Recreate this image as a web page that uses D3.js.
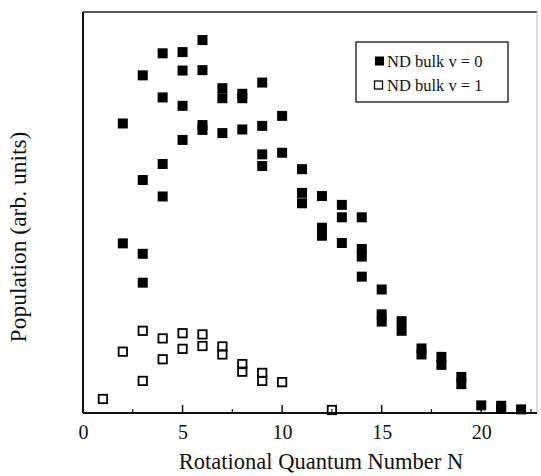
<!DOCTYPE html>
<html>
<head>
<meta charset="utf-8">
<script src="https://cdn.jsdelivr.net/npm/d3@7"></script>
<style>
  body { margin: 0; background: #fff; }
  svg { display: block; font-family: 'Liberation Serif', 'DejaVu Serif', serif; }
</style>
</head>
<body>
<div id="chart"></div>
<script>
// ND bulk v = 0 (filled squares)
const nV0 = [2, 2, 3, 3, 3, 3, 4, 4, 4, 4, 5, 5, 5, 5, 6, 6, 6, 6, 7, 7, 7, 8, 8, 8,
  9, 9, 9, 9, 10, 10, 11, 11, 11, 12, 12, 12, 13, 13, 13, 14, 14, 14, 14,
  15, 15, 15, 16, 16, 17, 17, 18, 18, 19, 19, 20, 21, 21, 22];
const popV0 = [72.2, 42.3, 84.2, 58.1, 39.7, 32.5, 89.7, 78.7, 62.1, 54.0, 90.0, 85.4, 76.6, 68.1,
  93.0, 85.5, 71.8, 70.6, 81.0, 78.5, 69.8, 79.6, 78.5, 70.7,
  82.4, 71.6, 64.5, 61.6, 74.1, 64.9, 60.8, 54.9, 52.3, 54.1, 46.2, 44.2, 51.9, 48.8, 42.4,
  48.8, 40.9, 39.0, 34.0, 30.8, 24.6, 22.8, 22.9, 20.5, 16.1, 14.6, 14.0, 12.0, 9.0, 7.2,
  1.9, 1.8, 1.0, 0.9];

// ND bulk v = 1 (open squares)
const nV1 = [1, 2, 3, 3, 4, 4, 5, 5, 6, 6, 7, 7, 8, 8, 9, 9, 10, 12.5];
const popV1 = [3.5, 15.3, 20.5, 8.0, 18.6, 13.4, 19.9, 16.0, 19.6, 16.7, 16.6, 14.6,
  12.2, 10.3, 10.0, 8.0, 7.7, 0.75];

const xTicks = [0, 5, 10, 15, 20];
const xMinorTicks = [2.5, 7.5, 12.5, 17.5, 22.5];
const legendLabels = ['ND bulk v = 0', 'ND bulk v = 1'];

const width = 541;
const height = 476;
const plotLeft = 83, plotRight = 537, plotTop = 12, plotBottom = 413;

const svg = d3.select('#chart').append('svg')
  .attr('width', width)
  .attr('height', height);

const x = d3.scaleLinear().domain([0, 22.8]).range([plotLeft, plotRight]);
const y = d3.scaleLinear().domain([0, 100]).range([plotBottom, plotTop]);

// frame
svg.append('line').attr('x1', plotLeft).attr('x2', plotRight).attr('y1', plotTop).attr('y2', plotTop)
  .attr('stroke', '#222').attr('stroke-width', 1.5);
svg.append('line').attr('x1', plotRight).attr('x2', plotRight).attr('y1', plotTop).attr('y2', plotBottom)
  .attr('stroke', '#bbb').attr('stroke-width', 1);

// x axis with inward ticks
const xAxis = svg.append('g')
  .attr('transform', `translate(0, ${plotBottom})`)
  .call(d3.axisBottom(x).tickValues(xTicks).tickSize(0).tickPadding(12).tickFormat(d3.format('d')));
xAxis.select('.domain').remove();
xAxis.selectAll('text')
  .attr('font-size', 20)
  .attr('font-family', "'Liberation Serif', serif")
  .attr('fill', '#111');

svg.append('g').selectAll('line')
  .data(xTicks.slice(1))
  .join('line')
  .attr('x1', d => x(d)).attr('x2', d => x(d))
  .attr('y1', plotBottom).attr('y2', plotBottom - 8)
  .attr('stroke', '#111').attr('stroke-width', 1.5);

svg.append('g').selectAll('line')
  .data(xMinorTicks)
  .join('line')
  .attr('x1', d => x(d)).attr('x2', d => x(d))
  .attr('y1', plotBottom).attr('y2', plotBottom - 4)
  .attr('stroke', '#111').attr('stroke-width', 1.2);

// axis lines
svg.append('line').attr('x1', plotLeft).attr('x2', plotRight).attr('y1', plotBottom).attr('y2', plotBottom)
  .attr('stroke', '#111').attr('stroke-width', 2);
svg.append('line').attr('x1', plotLeft).attr('x2', plotLeft).attr('y1', plotTop).attr('y2', plotBottom)
  .attr('stroke', '#111').attr('stroke-width', 2);

// axis titles
svg.append('text')
  .attr('x', 321)
  .attr('y', 469)
  .attr('text-anchor', 'middle')
  .attr('font-size', 22.5)
  .attr('fill', '#111')
  .text('Rotational Quantum Number N');

svg.append('text')
  .attr('transform', 'translate(26, 237) rotate(-90)')
  .attr('text-anchor', 'middle')
  .attr('font-size', 23.5)
  .attr('fill', '#111')
  .text('Population (arb. units)');

// data marks
const v0 = nV0.map((n, i) => ({ n, p: popV0[i] }));
const v1 = nV1.map((n, i) => ({ n, p: popV1[i] }));

const sF = 10;
svg.append('g').selectAll('rect')
  .data(v0)
  .join('rect')
  .attr('x', d => x(d.n) - sF / 2)
  .attr('y', d => y(d.p) - sF / 2)
  .attr('width', sF)
  .attr('height', sF)
  .attr('fill', '#000');

const sO = 8.4;
svg.append('g').selectAll('rect')
  .data(v1)
  .join('rect')
  .attr('x', d => x(d.n) - sO / 2)
  .attr('y', d => y(d.p) - sO / 2)
  .attr('width', sO)
  .attr('height', sO)
  .attr('fill', 'none')
  .attr('stroke', '#000')
  .attr('stroke-width', 1.8);

// legend
const legend = svg.append('g');
legend.append('rect')
  .attr('x', 356).attr('y', 42)
  .attr('width', 152).attr('height', 60)
  .attr('fill', '#fff')
  .attr('stroke', '#111')
  .attr('stroke-width', 1.3);

legend.selectAll('g.item')
  .data(legendLabels)
  .join('g')
  .attr('class', 'item')
  .attr('transform', (d, i) => `translate(0, ${61 + i * 24})`)
  .each(function(d, i) {
    const g = d3.select(this);
    if (i === 0) {
      g.append('rect').attr('x', 375).attr('y', -4.5).attr('width', 9).attr('height', 9).attr('fill', '#000');
    } else {
      g.append('rect').attr('x', 374.5).attr('y', -4).attr('width', 8).attr('height', 8)
        .attr('fill', 'none').attr('stroke', '#000').attr('stroke-width', 1.3);
    }
    g.append('text')
      .attr('x', 387)
      .attr('y', 5.5)
      .attr('font-size', 16.5)
      .attr('fill', '#111')
      .text(d);
  });
</script>
</body>
</html>
